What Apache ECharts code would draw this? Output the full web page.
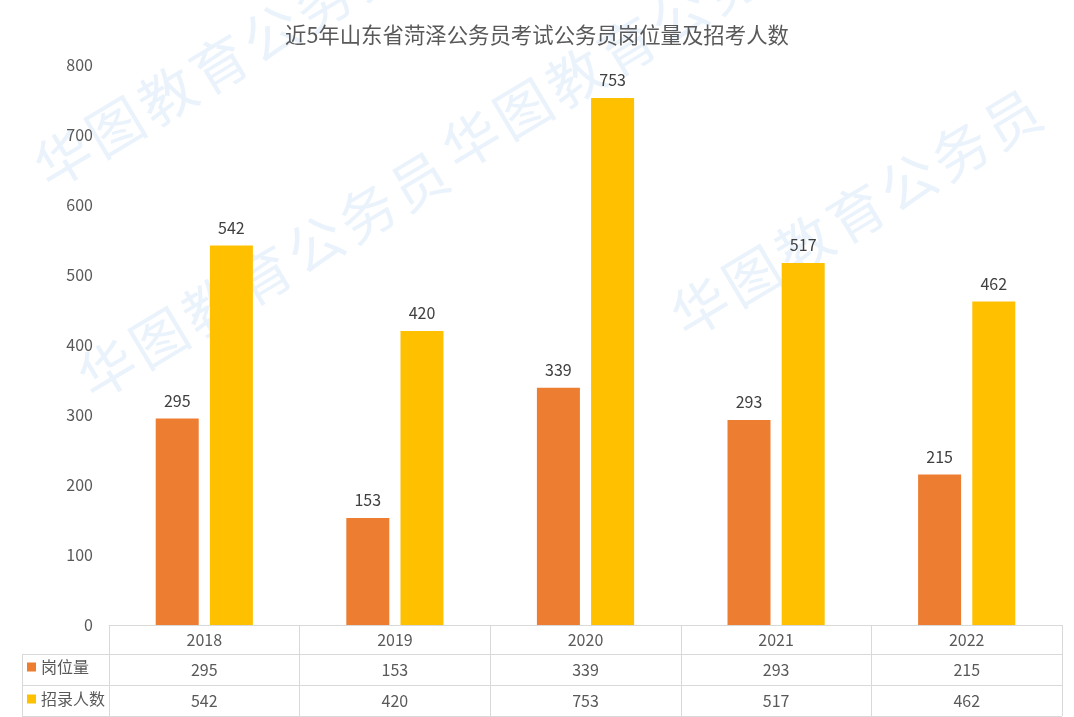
<!DOCTYPE html>
<html>
<head>
<meta charset="utf-8">
<script src="https://cdn.jsdelivr.net/npm/echarts/dist/echarts.min.js"></script>
<style>html,body{margin:0;padding:0;background:#fff}#c{width:1074px;height:717px}</style>
</head>
<body>
<div id="c"></div>
<script>
const chartTitle = '近5年山东省菏泽公务员考试公务员岗位量及招考人数';
const categories = ['2018', '2019', '2020', '2021', '2022'];
const seriesNames = ['岗位量', '招录人数'];
const postCounts = [295, 153, 339, 293, 215];
const applicantCounts = [542, 420, 753, 517, 462];
const yMin = 0, yMax = 800, yStep = 100;
const watermarkText = '华图教育公务员';

const FONT = '"Noto Sans CJK SC", "Noto Sans", sans-serif';
const TXT = '#595959';
const LINE = '#d9d9d9';
const COLORS = ['#ED7D31', '#FFC000'];

// layout constants
const G = { left: 109, right: 12, top: 65, bottom: 92 };
const W = 1074, H = 717;
const axisY = H - G.bottom;           // 625
const rowLines = [654, 685, 716];
const tableLeft = 22;

const graphics = [];
// watermark (decorative)
const wmStarts = [[63, 158], [107, 369], [471, 140], [700, 307]];
const ang = 31 * Math.PI / 180;
wmStarts.forEach(([x0, y0]) => {
  Array.from(watermarkText).forEach((ch, i) => {
    graphics.push({
      type: 'text', z: 0, silent: true,
      x: x0 + 52 * i, y: y0 - 31.3 * i, rotation: ang,
      style: { text: ch, font: '56px ' + FONT, fill: '#eaf3fb', align: 'center', verticalAlign: 'middle' }
    });
  });
});
// table lines
rowLines.forEach(y => {
  graphics.push({ type: 'line', z: 10, silent: true,
    shape: { x1: tableLeft, y1: y + 0.5, x2: W - G.right, y2: y + 0.5 },
    style: { stroke: LINE, lineWidth: 1 } });
});
graphics.push({ type: 'line', z: 10, silent: true,
  shape: { x1: tableLeft + 0.5, y1: rowLines[0], x2: tableLeft + 0.5, y2: rowLines[2] },
  style: { stroke: LINE, lineWidth: 1 } });

const labelStyle = { fontSize: 16, color: TXT, fontFamily: FONT, lineHeight: 16 };

const option = {
  backgroundColor: '#fff',
  animation: false,
  textStyle: { fontFamily: FONT },
  title: {
    text: chartTitle, left: 'center', top: 19,
    textStyle: { fontSize: 21.4, fontWeight: 'normal', color: TXT, fontFamily: FONT }
  },
  legend: seriesNames.map((n, i) => ({
    data: [n], left: 27, top: 659 + i * 32, orient: 'vertical', padding: 0,
    itemWidth: 9, itemHeight: 9, icon: 'rect', selectedMode: false,
    textStyle: labelStyle
  })),
  grid: { left: G.left, right: G.right, top: G.top, bottom: G.bottom, outerBoundsMode: 'none', containLabel: false },
  xAxis: [
    {
      type: 'category', data: categories, position: 'bottom',
      axisLine: { show: true, lineStyle: { color: LINE, width: 1 } },
      axisTick: { show: true, interval: 0, length: rowLines[2] - axisY, lineStyle: { color: LINE } },
      axisLabel: Object.assign({ margin: 7, interval: 0 }, labelStyle),
      splitLine: { show: false }
    },
    {
      type: 'category', data: categories, position: 'bottom', offset: rowLines[0] - axisY,
      axisLine: { show: false }, axisTick: { show: false },
      axisLabel: Object.assign({ margin: 8, interval: 0, formatter: (v, i) => String(postCounts[i]) }, labelStyle)
    },
    {
      type: 'category', data: categories, position: 'bottom', offset: rowLines[1] - axisY,
      axisLine: { show: false }, axisTick: { show: false },
      axisLabel: Object.assign({ margin: 8, interval: 0, formatter: (v, i) => String(applicantCounts[i]) }, labelStyle)
    }
  ],
  yAxis: {
    type: 'value', min: yMin, max: yMax, interval: yStep,
    axisLine: { show: false }, axisTick: { show: false }, splitLine: { show: false },
    axisLabel: Object.assign({ margin: 16 }, labelStyle)
  },
  series: [
    {
      name: seriesNames[0], type: 'bar', xAxisIndex: 0, data: postCounts,
      barWidth: 43, barGap: '26%', z: 5,
      itemStyle: { color: COLORS[0] },
      label: { show: true, position: 'top', distance: 10, fontSize: 16, color: '#404040', fontFamily: FONT }
    },
    {
      name: seriesNames[1], type: 'bar', xAxisIndex: 0, data: applicantCounts,
      barWidth: 43, barGap: '26%', z: 5,
      itemStyle: { color: COLORS[1] },
      label: { show: true, position: 'top', distance: 10, fontSize: 16, color: '#404040', fontFamily: FONT }
    }
  ],
  graphic: graphics
};

const chart = echarts.init(document.getElementById('c'), null, { renderer: 'canvas' });
chart.setOption(option);
</script>
</body>
</html>
